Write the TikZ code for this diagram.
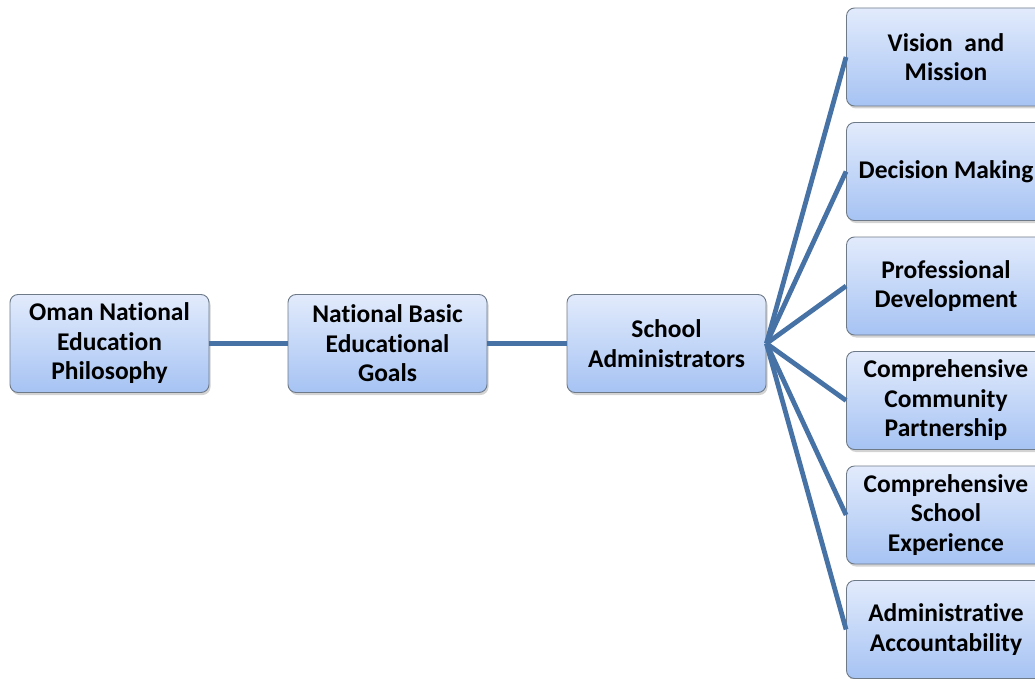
\documentclass[tikz,border=0pt]{standalone}
\usepackage{fontspec}
\setmainfont[Ligatures=NoCommon]{Carlito}
\usetikzlibrary{shadows}
\definecolor{linkblue}{HTML}{4672A6}
\definecolor{boxtop}{HTML}{E2EBFC}
\definecolor{boxbot}{HTML}{A6C3F3}
\definecolor{boxedge}{HTML}{6E7A88}
\tikzset{
  box/.style={draw=boxedge, line width=0.9pt, rounded corners=8pt,
    top color=boxtop, bottom color=boxbot, minimum width=199pt, minimum height=98pt,
    inner sep=2pt, align=center,
    font=\fontsize{25.5}{29.5}\selectfont\bfseries,
    drop shadow={opacity=0.35, shadow xshift=1.5pt, shadow yshift=-2.5pt}},
  link/.style={draw=linkblue, line width=4.8pt}
}
\begin{document}
\begin{tikzpicture}[x=1pt,y=-1pt]
\useasboundingbox (0,0) rectangle (1035,679);
\clip (0,0) rectangle (1035,679);
\node[box] (oman) at (109.5,343.5) {Oman National\\Education\\Philosophy};
\node[box] (goals) at (387.5,343.5) {National Basic\\Educational\\Goals};
\node[box] (admin) at (666.5,343.5) {School\\Administrators};
\node[box] (vision) at (946,57) {Vision\ \ and\\Mission};
\node[box] (decision) at (946,171.5) {Decision Making};
\node[box] (prof) at (946,286) {Professional\\Development};
\node[box] (comm) at (946,400.5) {Comprehensive\\Community\\Partnership};
\node[box] (exp) at (946,515) {Comprehensive\\School\\Experience};
\node[box] (acc) at (946,629.5) {Administrative\\Accountability};
\draw[link] (oman.east) -- (goals.west);
\draw[link] (goals.east) -- (admin.west);
\foreach \t in {vision,decision,prof,comm,exp,acc}
  \draw[link] (admin.east) -- (\t.west);
\end{tikzpicture}
\end{document}
